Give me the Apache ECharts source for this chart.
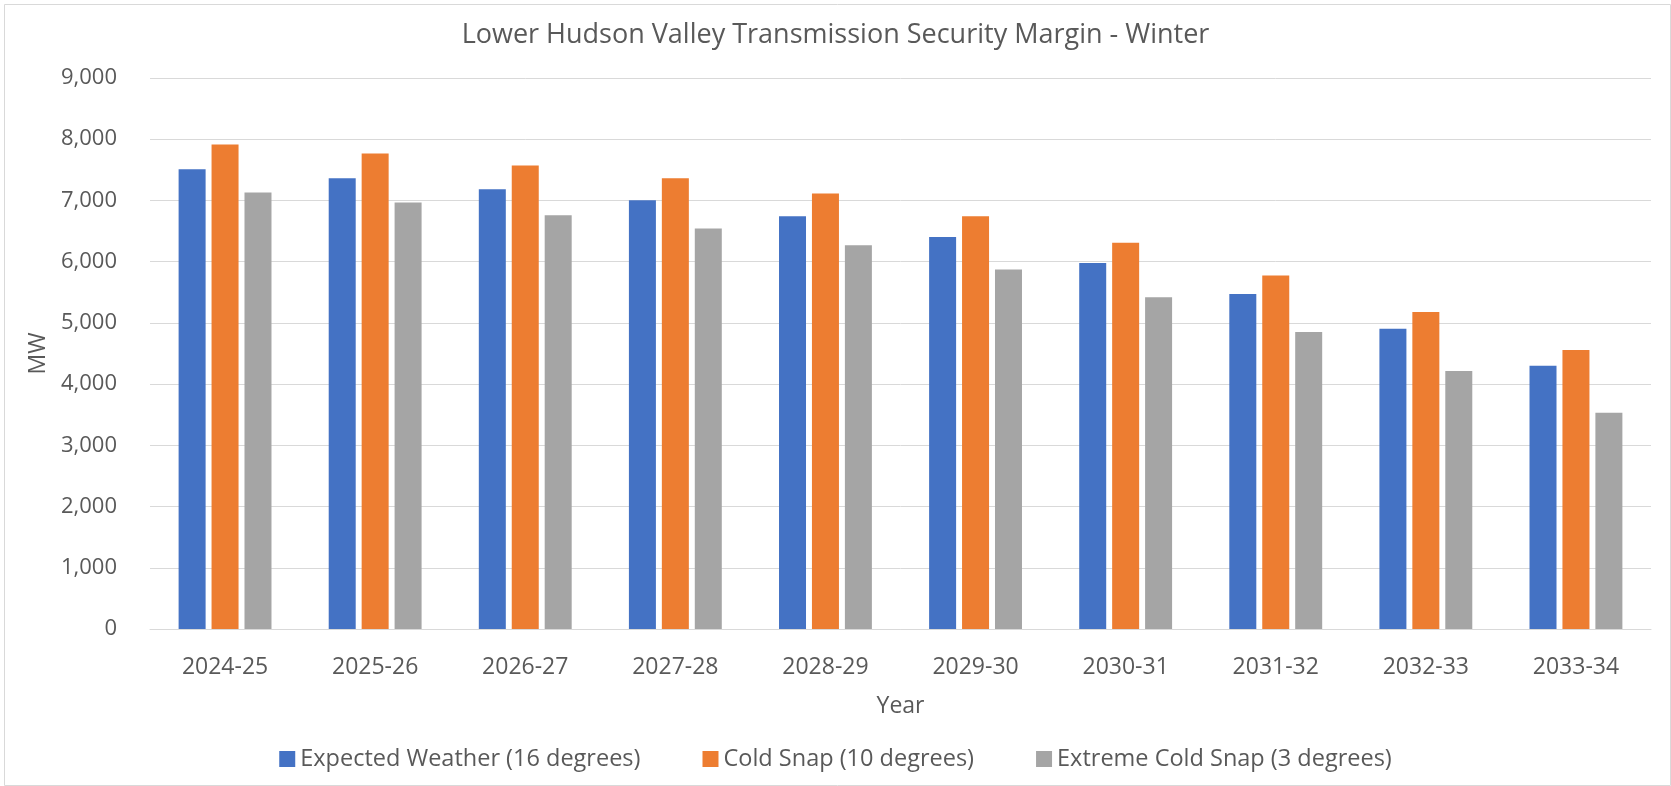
<!DOCTYPE html>
<html>
<head>
<meta charset="utf-8">
<style>
html,body{margin:0;padding:0;background:#fff;}
#chart{width:1671px;height:786px;}
</style>
<script src="https://cdn.jsdelivr.net/npm/echarts@6/dist/echarts.min.js"></script>
</head>
<body>
<div id="chart"></div>
<script>
const categories = ['2024-25','2025-26','2026-27','2027-28','2028-29','2029-30','2030-31','2031-32','2032-33','2033-34'];
const expectedWeather = [7510, 7363, 7184, 7004, 6743, 6401, 5977, 5471, 4905, 4301];
const coldSnap = [7913, 7766, 7570, 7363, 7113, 6743, 6308, 5776, 5177, 4557];
const extremeColdSnap = [7130, 6967, 6760, 6543, 6270, 5874, 5417, 4851, 4214, 3534];
const seriesNames = ['Expected Weather (16 degrees)', 'Cold Snap (10 degrees)', 'Extreme Cold Snap (3 degrees)'];

const FONT = '"Open Sans", "Noto Sans", sans-serif';
const TXT = '#595959';
const chart = echarts.init(document.getElementById('chart'));
function bar(name, data, color) {
  return { name, type: 'bar', data, barWidth: 27, barGap: '22%', itemStyle: { color } };
}
chart.setOption({
  animation: false,
  textStyle: { fontFamily: FONT },
  graphic: [{
    type: 'rect', left: 2, top: 2, silent: true,
    shape: { width: 1666, height: 781 },
    style: { fill: 'none', stroke: '#D9D9D9', lineWidth: 1 }
  }],
  title: {
    text: 'Lower Hudson Valley Transmission Security Margin - Winter',
    left: 'center', top: 17,
    textStyle: { fontFamily: FONT, fontSize: 27, fontWeight: 'normal', color: TXT }
  },
  legend: {
    data: seriesNames,
    left: 'center', top: 742,
    itemWidth: 16, itemHeight: 16, itemGap: 62,
    icon: 'rect',
    textStyle: { fontFamily: FONT, fontSize: 23.5, color: TXT }
  },
  grid: { left: 150, right: 20, top: 78, bottom: 157 },
  xAxis: {
    type: 'category', data: categories,
    name: 'Year', nameLocation: 'middle', nameGap: 66,
    nameTextStyle: { fontFamily: FONT, fontSize: 23, color: TXT },
    axisLine: { lineStyle: { color: '#D9D9D9', width: 1 } },
    axisTick: { show: false },
    axisLabel: { fontFamily: FONT, fontSize: 23, color: TXT, margin: 27 }
  },
  yAxis: {
    type: 'value', min: 0, max: 9000, interval: 1000,
    name: 'MW', nameLocation: 'middle', nameGap: 100, nameRotate: 90,
    nameTextStyle: { fontFamily: FONT, fontSize: 23, color: TXT },
    axisLine: { show: false }, axisTick: { show: false },
    splitLine: { lineStyle: { color: '#D9D9D9', width: 1 } },
    axisLabel: {
      fontFamily: FONT, fontSize: 22, color: TXT, margin: 33,
      formatter: v => v.toLocaleString('en-US')
    }
  },
  series: [
    bar(seriesNames[0], expectedWeather, '#4472C4'),
    bar(seriesNames[1], coldSnap, '#ED7D31'),
    bar(seriesNames[2], extremeColdSnap, '#A5A5A5')
  ]
});
</script>
</body>
</html>
